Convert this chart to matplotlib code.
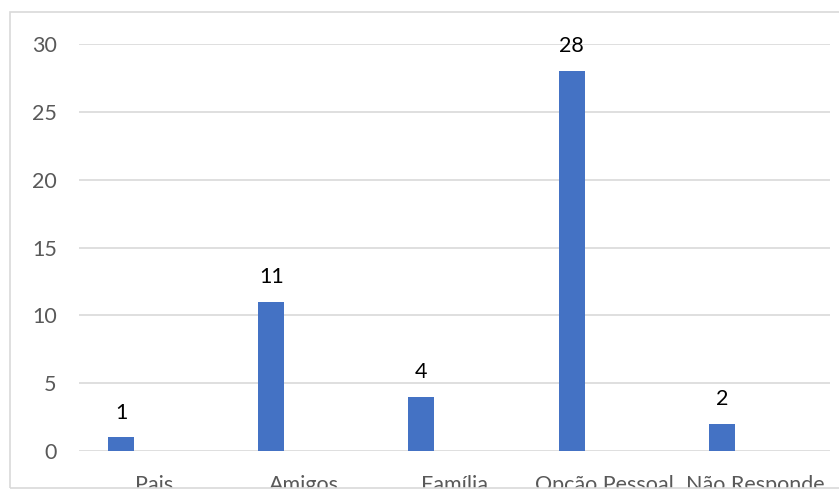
import numpy as np
import matplotlib
matplotlib.use('Agg')
from matplotlib import pyplot as plt
from matplotlib.patches import Rectangle

categories = ['Pais', 'Amigos', 'Família', 'Opção Pessoal', 'Não Responde']
values = [1, 11, 4, 28, 2]
yticks = [0, 5, 10, 15, 20, 25, 30]

plt.rcParams['font.family'] = ['Lato', 'DejaVu Sans']

W, H = 839, 490
fig = plt.figure(figsize=(W / 100, H / 100), dpi=100)
ax = fig.add_axes([79 / W, 39 / H, (830 - 79) / W, (451 - 44) / H])

x = np.arange(len(categories))
bw = 0.173
offset = -0.22
bars = ax.bar(x + offset, values, width=bw, color='#4472C4', zorder=3)
for xi, v in zip(x, values):
    ax.annotate(str(v), (xi + offset, v), xytext=(0, 13.5), textcoords='offset points',
                ha='center', va='baseline', fontsize=15.5, color='black')

ax.set_xlim(-0.5, len(categories) - 0.5)
ax.set_ylim(0, 30)
ax.set_yticks(yticks)
ax.set_xticks(x)
ax.set_xticklabels(categories, fontsize=15.5)
ax.grid(axis='y', color='#d9d9d9', linewidth=1.2, zorder=0)
for s in ['top', 'right', 'left', 'bottom']:
    ax.spines[s].set_visible(False)
ax.tick_params(axis='both', length=0, labelsize=15.5, colors='#595959')
ax.tick_params(axis='y', pad=16)
ax.tick_params(axis='x', pad=17)

# chart border; the bottom strip clips the category labels as in the original
fig.patches.append(Rectangle((0, 0), 1, 2 / H, transform=fig.transFigure,
                             facecolor='white', edgecolor='none', zorder=10))
fig.patches.append(Rectangle((10 / W, 2 / H), 2, (H - 14) / H, transform=fig.transFigure,
                             facecolor='none', edgecolor='#d9d9d9', linewidth=1.2, zorder=11))

fig.savefig('out.png', dpi=100)
